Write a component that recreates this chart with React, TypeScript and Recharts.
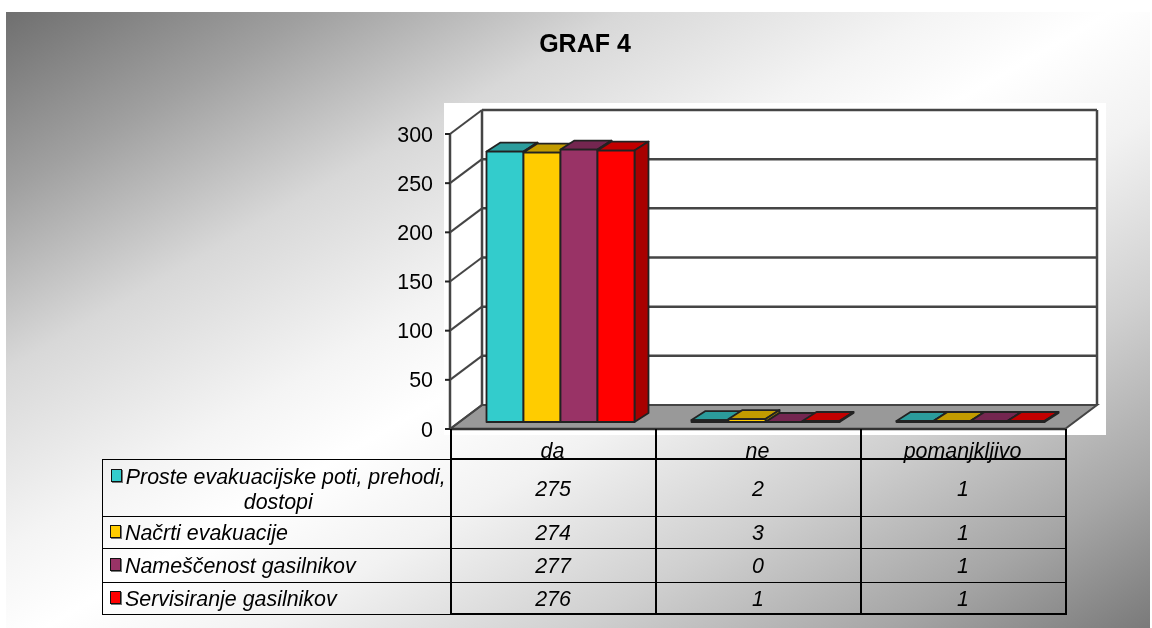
import React from 'react';
import { BarChart, Bar, XAxis, YAxis, CartesianGrid } from 'recharts';

const categories = ['da', 'ne', 'pomanjkljivo'];
const seriesNames = ['Proste evakuacijske poti, prehodi, dostopi', 'Načrti evakuacije', 'Nameščenost gasilnikov', 'Servisiranje gasilnikov'];
const seriesA = [275, 2, 1];
const seriesB = [274, 3, 1];
const seriesC = [277, 0, 1];
const seriesD = [276, 1, 1];
const seriesValues = [seriesA, seriesB, seriesC, seriesD];
const frontColors = ['#33CCCC', '#FFCC00', '#993366', '#FF0000'];
const topColors = ['#2B9C9C', '#C29B00', '#742650', '#C20000'];
const sideColors = ['#259090', '#A88600', '#5F1F42', '#A80000'];
const yTicks = [0, 50, 100, 150, 200, 250, 300];

const rows = categories.map((name, i) => ({
  name,
  s0: seriesA[i],
  s1: seriesB[i],
  s2: seriesC[i],
  s3: seriesD[i],
}));

const FONT = '"Liberation Sans", Arial, sans-serif';
const DEPTH_X = 32;
const DEPTH_Y = 24;
const INSET_X = 8;
const INSET_Y = 7;
const BAR_DX = 14;
const BAR_DY = 9;
const WALL = '#454545';

const gridLine = (props: any) => {
  const { x1, x2, y1, key } = props;
  const isFloor = y1 > 420;
  return (
    <g key={key ?? y1}>
      {isFloor && (
        <>
          <polygon
            points={`${x1},${y1} ${x1 + DEPTH_X},${y1 - DEPTH_Y} ${x2 + DEPTH_X},${y1 - DEPTH_Y} ${x2},${y1}`}
            fill="#999999"
            stroke={WALL}
            strokeWidth={2}
          />
          <line x1={x1 + DEPTH_X} x2={x1 + DEPTH_X} y1={y1 - DEPTH_Y} y2={y1 - DEPTH_Y - 295} stroke={WALL} strokeWidth={2.5} />
          <line x1={x2 + DEPTH_X} x2={x2 + DEPTH_X} y1={y1 - DEPTH_Y} y2={y1 - DEPTH_Y - 295} stroke={WALL} strokeWidth={2.5} />
        </>
      )}
      <line x1={x1} y1={y1} x2={x1 + DEPTH_X} y2={y1 - DEPTH_Y} stroke={WALL} strokeWidth={2} />
      {!isFloor && <line x1={x1 + DEPTH_X} y1={y1 - DEPTH_Y} x2={x2 + DEPTH_X} y2={y1 - DEPTH_Y} stroke={WALL} strokeWidth={2.5} />}
    </g>
  );
};

const bar3d = (idx: number) => (props: any) => {
  const x = props.x + INSET_X;
  const y = props.y - INSET_Y;
  const w = props.width;
  const h = props.height;
  return (
    <g stroke="#222" strokeWidth={1.8} strokeLinejoin="round">
      <polygon points={`${x},${y} ${x + BAR_DX},${y - BAR_DY} ${x + w + BAR_DX},${y - BAR_DY} ${x + w},${y}`} fill={topColors[idx]} />
      <polygon points={`${x + w},${y} ${x + w + BAR_DX},${y - BAR_DY} ${x + w + BAR_DX},${y + h - BAR_DY} ${x + w},${y + h}`} fill={sideColors[idx]} />
      <rect x={x} y={y} width={w} height={h} fill={frontColors[idx]} />
    </g>
  );
};

const line = '2px solid #000';
const thin = '1.5px solid #000';
const rowHeights = [57, 32, 34, 32];

export default function App() {
  return (
    <div style={{ position: 'fixed', left: 0, top: 0, width: 1152, height: 628, background: '#fff', overflow: 'hidden', fontFamily: FONT, color: '#000', filter: 'blur(0.4px)' }}>
      <div
        style={{
          position: 'absolute',
          left: 6,
          top: 12,
          width: 1144,
          height: 616,
          background:
            'linear-gradient(150deg, #6f6f6f 0%, #a0a0a0 14%, #d8d8d8 28%, #f4f4f4 42%, #ffffff 50%, #f2f2f2 60%, #d0d0d0 74%, #a6a6a6 88%, #7a7a7a 100%)',
        }}
      />
      <div style={{ position: 'absolute', left: 444, top: 103, width: 662, height: 332, background: '#fff' }} />
      <div style={{ position: 'absolute', left: 485, top: 29, width: 200, textAlign: 'center', fontSize: 25, fontWeight: 700 }}>GRAF 4</div>
      <div style={{ position: 'absolute', left: 0, top: 0 }}>
        <BarChart
          width={1152}
          height={628}
          data={rows}
          margin={{ top: 134, right: 87, bottom: 159, left: 390 }}
          barCategoryGap={28.5}
          barGap={0}
        >
          <CartesianGrid vertical={false} horizontal={gridLine} />
          <XAxis
            dataKey="name"
            height={40}
            axisLine={{ stroke: '#333', strokeWidth: 2.5 }}
            tickLine={false}
            tickMargin={8}
            tick={{ fontSize: 21.4, fontStyle: 'italic', fill: '#000', fontFamily: FONT }}
          />
          <YAxis
            width={60}
            domain={[0, 300]}
            ticks={yTicks}
            interval={0}
            axisLine={{ stroke: WALL, strokeWidth: 2.5 }}
            tickLine={{ stroke: '#222', strokeWidth: 2 }}
            tickSize={5}
            tickMargin={12}
            tick={{ fontSize: 21.4, fill: '#000', fontFamily: FONT }}
          />
          {frontColors.map((c, i) => (
            <Bar key={c} dataKey={`s${i}`} name={seriesNames[i]} fill={c} isAnimationActive={false} shape={bar3d(i)} />
          ))}
        </BarChart>
      </div>
      <table
        style={{
          position: 'absolute',
          left: 102,
          top: 429,
          width: 963,
          tableLayout: 'fixed',
          borderCollapse: 'collapse',
          fontSize: 21.4,
          fontStyle: 'italic',
          fontFamily: FONT,
        }}
      >
        <colgroup>
          <col style={{ width: 348 }} />
          <col style={{ width: 205 }} />
          <col style={{ width: 205 }} />
          <col style={{ width: 205 }} />
        </colgroup>
        <tbody>
          <tr style={{ height: 30 }}>
            <td style={{ padding: 0 }} />
            {categories.map((c) => (
              <td key={c} style={{ padding: 0, borderLeft: line, borderRight: line, borderBottom: line }} />
            ))}
          </tr>
          {seriesNames.map((name, i) => (
            <tr key={name} style={{ height: rowHeights[i] }}>
              <td style={{ padding: `${i === 0 ? 4 : 2}px 3px 0 7px`, border: thin, borderRight: line, textAlign: i === 0 ? 'center' : 'left', lineHeight: '25px', whiteSpace: i === 0 ? 'normal' : 'nowrap' }}>
                <span
                  style={{
                    display: 'inline-block',
                    width: 9,
                    height: 11,
                    marginRight: 4,
                    verticalAlign: 2,
                    background: frontColors[i],
                    border: '1.5px solid #111',
                    boxShadow: '1px 1px 0 #777',
                  }}
                />
                {name}
              </td>
              {seriesValues[i].map((v, j) => (
                <td key={j} style={{ padding: '3px 0 0', lineHeight: '25px', textAlign: 'center', borderLeft: line, borderRight: line, borderTop: thin, borderBottom: i === 3 ? line : thin }}>
                  {v}
                </td>
              ))}
            </tr>
          ))}
        </tbody>
      </table>
    </div>
  );
}
